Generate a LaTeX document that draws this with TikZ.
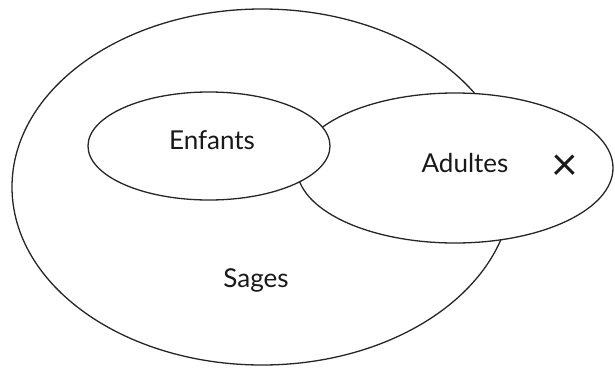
\documentclass[tikz,border=0pt]{standalone}
\usepackage{fontspec}
\setmainfont{Lato}
\usetikzlibrary{shapes.geometric}

\begin{document}
\begin{tikzpicture}[x=1pt, y=-1pt,
    setshape/.style={draw=black!85, line width=1.3pt, ellipse, fill=white,
        inner sep=0pt},
    setlbl/.style={font=\fontsize{26}{26}\selectfont, text=black!90,
        inner sep=0pt},
]
\useasboundingbox (0,0) rectangle (615,367);

% The three sets, drawn back to front
\node[setshape, minimum width=500pt, minimum height=356pt] (sages) at (262,187) {};
\node[setshape, minimum width=316pt, minimum height=150pt] (adultes) at (455,168) {};
\node[setshape, minimum width=242pt, minimum height=108pt] (enfants) at (209,146) {};

% Labels
\node[setlbl] (lblenfants) at (212,140) {Enfants};
\node[setlbl] (lbladultes) at (465,163) {Adultes};
\node[setlbl] (lblsages) at (256,280) {Sages};
\node[setlbl, font=\fontsize{46}{46}\selectfont] (mark) at (565,168) {×};

\end{tikzpicture}
\end{document}
